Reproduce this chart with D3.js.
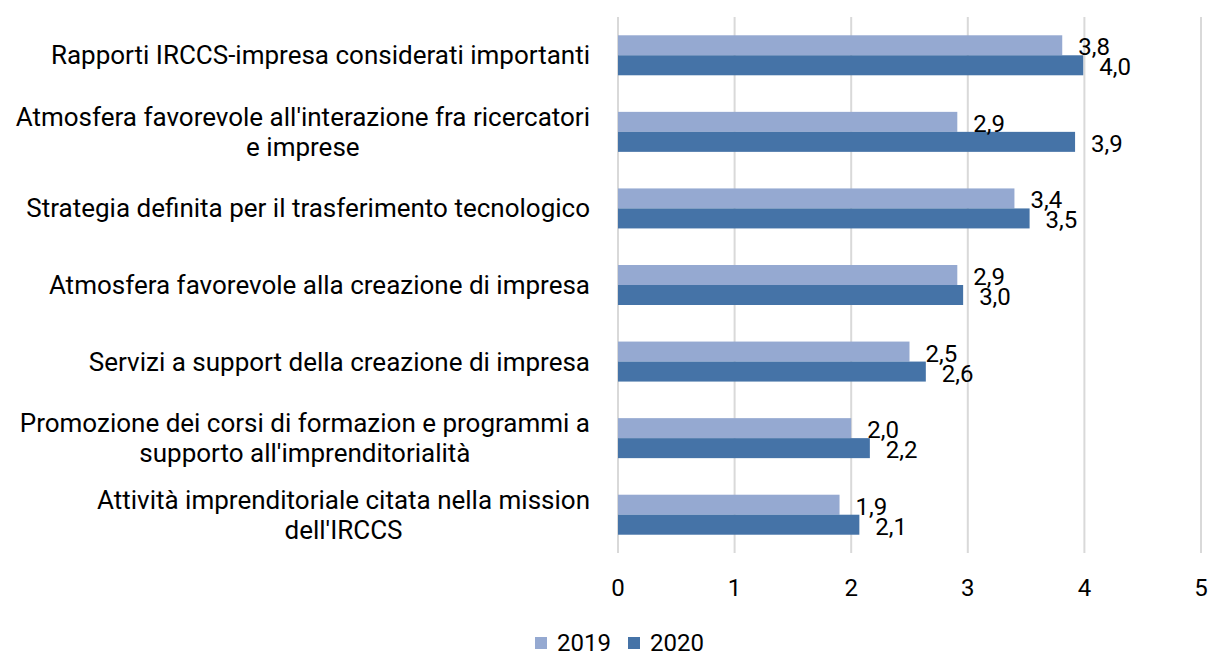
<!DOCTYPE html>
<html>
<head>
<meta charset="utf-8">
<script src="https://cdn.jsdelivr.net/npm/d3@7"></script>
<style>
  body { margin: 0; background: #fff; }
  text { font-family: Roboto, "Noto Sans", sans-serif; fill: #000; }
</style>
</head>
<body>
<div id="chart"></div>
<script>
// data
var categories = [
  ["Rapporti IRCCS-impresa considerati importanti"],
  ["Atmosfera favorevole all'interazione fra ricercatori", "e imprese"],
  ["Strategia definita per il trasferimento tecnologico"],
  ["Atmosfera favorevole alla creazione di impresa"],
  ["Servizi a support della creazione di impresa"],
  ["Promozione dei corsi di formazion e programmi a", "supporto all'imprenditorialità"],
  ["Attività imprenditoriale citata nella mission", "dell'IRCCS"]
];
var seriesNames = ["2019", "2020"];
var values2019 = [3.81, 2.91, 3.40, 2.91, 2.50, 2.00, 1.90];
var values2020 = [3.99, 3.92, 3.53, 2.96, 2.64, 2.16, 2.07];
var xTicks = [0, 1, 2, 3, 4, 5];
var colors = ["#95a9d1", "#4573a7"];

var svgWidth = 1211, svgHeight = 654;
var margin = { left: 618, right: 10, top: 17, bottom: 101 };
var width = svgWidth - margin.left - margin.right,
    height = svgHeight - margin.top - margin.bottom;

var svg = d3.select("#chart").append("svg")
    .attr("width", svgWidth)
    .attr("height", svgHeight);

var chartGroup = svg.append("g")
  .attr("transform", `translate(${margin.left}, ${margin.top})`);

var x = d3.scaleLinear().domain([0, 5]).range([0, 583]);
var idx = categories.map(function(d, i) { return i; });
var y0 = d3.scaleBand().domain(idx).range([0, height]);
var bw = y0.bandwidth();
var y1 = d3.scaleBand().domain(seriesNames).range([bw / 2 - 20, bw / 2 + 20]);

// gridlines
chartGroup.selectAll("line.grid")
  .data(xTicks)
  .enter().append("line")
  .attr("class", "grid")
  .attr("x1", d => x(d)).attr("x2", d => x(d))
  .attr("y1", 0).attr("y2", height)
  .attr("stroke", "#d9d9d9")
  .attr("stroke-width", 2);

// x tick labels
chartGroup.selectAll("text.tick")
  .data(xTicks)
  .enter().append("text")
  .attr("class", "tick")
  .attr("x", d => x(d))
  .attr("y", height + 35)
  .attr("text-anchor", "middle")
  .attr("dominant-baseline", "central")
  .style("font-size", "24px")
  .text(d => d);

var rows = idx.map(function(i) {
  return { i: i, vals: [values2019[i], values2020[i]] };
});

var fmt = function(v) { return v.toFixed(1).replace(".", ","); };

var groups = chartGroup.selectAll("g.row")
  .data(rows)
  .enter().append("g")
  .attr("class", "row")
  .attr("transform", d => `translate(0, ${y0(d.i)})`);

groups.selectAll("rect")
  .data(d => d.vals.map((v, k) => ({ v: v, s: seriesNames[k], k: k })))
  .enter().append("rect")
  .attr("x", 0)
  .attr("y", d => y1(d.s))
  .attr("width", d => x(d.v))
  .attr("height", y1.bandwidth())
  .attr("fill", d => colors[d.k]);

groups.selectAll("text.lbl")
  .data(d => d.vals.map((v, k) => ({ v: v, s: seriesNames[k], k: k })))
  .enter().append("text")
  .attr("class", "lbl")
  .attr("x", d => x(d.v) + 16)
  .attr("y", d => y1(d.s) + y1.bandwidth() / 2 + 2)
  .attr("dominant-baseline", "central")
  .style("font-size", "24px")
  .text(d => fmt(d.v));

// category labels (multi-line, centered block, right aligned)
var labelRight = 590;
categories.forEach(function(lines, i) {
  var t = svg.append("text")
    .attr("text-anchor", "middle")
    .style("font-size", "26px");
  var lh = 30;
  var cy = margin.top + y0(i) + bw / 2;
  var top = cy - (lines.length - 1) * lh / 2;
  lines.forEach(function(line, j) {
    t.append("tspan")
      .attr("y", top + j * lh)
      .attr("dominant-baseline", "central")
      .text(line);
  });
  var maxW = 0;
  t.selectAll("tspan").each(function() {
    maxW = Math.max(maxW, this.getComputedTextLength());
  });
  t.selectAll("tspan").attr("x", labelRight - maxW / 2);
});

// legend
var legend = svg.append("g").attr("transform", "translate(535, 642)");
var legX = [0, 93];
seriesNames.forEach(function(s, k) {
  var g = legend.append("g").attr("transform", `translate(${legX[k]}, 0)`);
  g.append("rect").attr("x", 0).attr("y", -5).attr("width", 12).attr("height", 12)
    .attr("fill", colors[k]);
  g.append("text").attr("x", 22).attr("y", 1)
    .attr("dominant-baseline", "central")
    .style("font-size", "24px")
    .text(s);
});
</script>
</body>
</html>
